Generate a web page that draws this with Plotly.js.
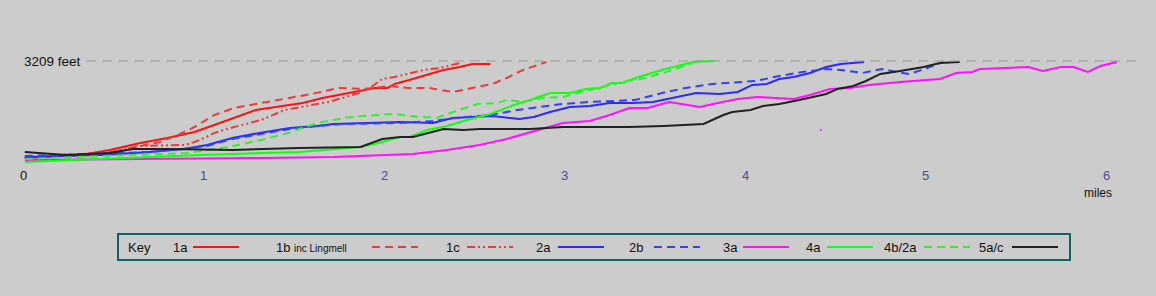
<!DOCTYPE html>
<html><head><meta charset="utf-8">
<script src="https://cdn.plot.ly/plotly-3.0.1.min.js"></script>
<style>html,body{margin:0;padding:0;background:#cccccc;}#chart{width:1156px;height:296px;}</style>
</head><body><div id="chart"></div>
<script>
// ---- DATA (distance in miles, height in feet) ----
const summitFeet = 3209;
const seriesNames = ['1a','1b','1c','2a','2b','3a','4a','4b/2a','5a/c'];
const tickValues = [0,1,2,3,4,5,6];
const tickLabels = ['0','1','2','3','4','5','6'];

const miles1a = [0.01,0.32,0.48,0.65,0.80,0.95,1.06,1.17,1.29,1.40,1.55,1.66,1.75,1.88,1.95,2.02,2.06,2.14,2.27,2.33,2.42,2.49,2.59];
const feet1a  = [300,390,540,750,900,1080,1290,1500,1740,1830,1950,2100,2190,2310,2400,2400,2520,2640,2850,2940,3030,3120,3120];

const miles1b = [0.01,0.43,0.65,0.76,0.87,0.95,1.06,1.17,1.32,1.47,1.60,1.75,1.88,1.95,2.03,2.14,2.25,2.38,2.49,2.60,2.68,2.77,2.90];
const feet1b  = [300,390,660,780,1020,1230,1590,1800,1950,2100,2220,2400,2370,2400,2460,2400,2400,2280,2400,2520,2700,2940,3180];

const miles1c = [0.01,0.48,0.65,0.80,0.90,0.98,1.06,1.17,1.32,1.45,1.58,1.69,1.77,1.86,1.93,1.99,2.06,2.22,2.31,2.42];
const feet1c  = [300,480,660,690,690,840,1050,1230,1440,1740,1860,1980,2100,2250,2430,2670,2730,2940,3000,3150];

const miles2a = [0.01,0.43,0.70,0.89,1.02,1.16,1.31,1.48,1.63,1.72,1.91,2.09,2.27,2.38,2.60,2.68,2.75,2.83,2.92,3.03,3.14,3.25,3.38,3.49,3.60,3.73,3.86,3.96,4.04,4.12,4.19,4.27,4.36,4.45,4.53,4.62,4.66];
const feet2a  = [330,390,480,570,690,900,1050,1200,1260,1320,1350,1380,1350,1500,1560,1500,1470,1530,1680,1830,1860,1950,1950,1980,2100,2250,2220,2280,2490,2520,2670,2730,2850,3030,3120,3150,3180];

const miles2b = [0.01,0.43,0.70,0.89,1.02,1.16,1.31,1.48,1.63,1.78,2.09,2.27,2.40,2.59,2.74,2.86,2.99,3.14,3.39,3.54,3.67,3.82,3.96,4.06,4.19,4.32,4.45,4.53,4.65,4.76,4.84,4.91,5.01,5.10];
const feet2b  = [360,420,480,570,660,870,1020,1170,1260,1320,1350,1410,1500,1590,1740,1830,1920,1980,2040,2250,2400,2520,2580,2610,2760,2880,2970,2940,2850,2970,2880,2820,3000,3180];

const miles3a = [0.01,0.80,1.35,1.72,1.98,2.16,2.35,2.53,2.68,2.81,2.99,3.14,3.25,3.36,3.46,3.58,3.75,3.85,3.96,4.07,4.22,4.27,4.36,4.47,4.58,4.69,4.86,5.08,5.17,5.26,5.30,5.41,5.57,5.65,5.75,5.82,5.90,5.97,6.06];
const feet3a  = [240,270,300,330,390,420,540,690,870,1080,1350,1410,1590,1800,1800,1980,1830,1950,2070,2130,2100,2070,2190,2370,2400,2490,2580,2670,2850,2880,2970,3000,3030,2910,3030,3030,2880,3060,3180];
const miles3aStray = [4.42];
const feet3aStray  = [1140];

const miles4a = [0.01,0.43,0.98,1.53,1.87,1.99,2.09,2.14,2.24,2.35,2.46,2.59,2.72,2.81,2.92,3.03,3.12,3.20,3.26,3.32,3.41,3.54,3.67,3.71,3.83];
const feet4a  = [180,270,390,480,630,780,930,930,1140,1260,1440,1620,1890,2040,2250,2250,2370,2400,2550,2550,2730,2940,3120,3180,3209];

const miles4b = [0.01,0.61,0.91,1.14,1.32,1.47,1.56,1.66,1.78,1.88,2.06,2.14,2.29,2.40,2.52,2.63,2.68,2.77,2.88,2.99,3.14,3.24,3.32,3.45,3.60,3.71];
const feet4b  = [270,390,450,630,840,1050,1230,1380,1500,1560,1620,1560,1500,1710,1920,1950,2040,1980,2100,2130,2340,2460,2580,2700,2940,3150];

const miles5 = [0.01,0.24,0.48,0.61,0.80,1.16,1.53,1.87,1.99,2.09,2.16,2.33,2.44,2.53,2.81,2.99,3.36,3.55,3.77,3.82,3.88,3.93,4.03,4.10,4.19,4.30,4.45,4.51,4.60,4.67,4.75,4.86,4.99,5.08,5.19];
const feet5  = [480,390,450,570,570,540,600,630,870,930,930,1170,1140,1170,1170,1230,1230,1260,1320,1440,1590,1680,1740,1860,1920,2040,2220,2370,2460,2610,2820,2910,3030,3150,3180];

// ---- STYLE ----
const W = 1156, H = 296;
const pxPerMile = 180.5, originPx = 23;      // x pixel of 0 miles
const ftPerPx = 30, summitPy = 61;           // y pixel of summit line
const colors = ['#ff1111','#ee3a3a','#ee3a3a','#2a2aff','#3344ee','#ff11ff','#11ff11','#33ee33','#222222'];
const dashes = ['solid','8px,5px','8px,3px,2px,3px,2px,3px','solid','8px,5px','solid','solid','8px,5px','solid'];
const xs = [miles1a,miles1b,miles1c,miles2a,miles2b,miles3a,miles4a,miles4b,miles5];
const ys = [feet1a,feet1b,feet1c,feet2a,feet2b,feet3a,feet4a,feet4b,feet5];

const traces = xs.map((x,i)=>({
  x:x, y:ys[i], type:'scatter', mode:'lines', name:seriesNames[i],
  line:{color:colors[i], width:2, dash:dashes[i]}, hoverinfo:'skip'
}));
traces.push({x:miles3aStray, y:feet3aStray, type:'scatter', mode:'markers', name:'3a',
  marker:{color:'#ff11ff', size:2}, hoverinfo:'skip'});

const px = v => v / W;
const py = v => 1 - v / H;
const xr = [(0 - originPx)/pxPerMile, (W - originPx)/pxPerMile];
const yr = [summitFeet - (H - summitPy)*ftPerPx, summitFeet + summitPy*ftPerPx];

const FONT = 'Liberation Sans, Arial, sans-serif';
const annotations = [];
const shapes = [];

// summit reference line
shapes.push({type:'line', xref:'paper', yref:'y', x0:px(86), x1:px(1138), y0:summitFeet, y1:summitFeet,
  line:{color:'#9a9a9a', width:1, dash:'10px,6px'}});
annotations.push({xref:'paper', yref:'y', x:px(22), y:summitFeet, xanchor:'left', yanchor:'middle',
  text:summitFeet + ' feet', showarrow:false, font:{family:FONT, size:13.5, color:'#111'}});

// x tick labels
tickValues.forEach((v,i)=>{
  annotations.push({xref:'x', yref:'paper', x:v, y:py(175), xanchor:'center', yanchor:'middle',
    text:tickLabels[i], showarrow:false,
    font:{family:FONT, size:13, color: i===0 ? '#111' : '#4a4a96'}});
});
annotations.push({xref:'paper', yref:'paper', x:px(1098), y:py(193), xanchor:'center', yanchor:'middle',
  text:'miles', showarrow:false, font:{family:FONT, size:12, color:'#111'}});

// custom key box
shapes.push({type:'rect', xref:'paper', yref:'paper', x0:px(118), x1:px(1070), y0:py(234), y1:py(260),
  line:{color:'#0b6565', width:2}, fillcolor:'rgba(0,0,0,0)'});
const keyY = py(247);
annotations.push({xref:'paper', yref:'paper', x:px(126), y:keyY, xanchor:'left', yanchor:'middle',
  text:'Key', showarrow:false, font:{family:FONT, size:13, color:'#111'}});
const keyLabelX = [171,274,444,534,627,721,804,882,977];
const keySampleX = [193,372,467,558,654,743,827,924,1012];
const keySampleLen = 46;
seriesNames.forEach((n,i)=>{
  annotations.push({xref:'paper', yref:'paper', x:px(keyLabelX[i]), y:keyY, xanchor:'left', yanchor:'middle',
    text:n, showarrow:false, font:{family:FONT, size:13, color:'#111'}});
  shapes.push({type:'line', xref:'paper', yref:'paper', x0:px(keySampleX[i]), x1:px(keySampleX[i]+keySampleLen),
    y0:keyY, y1:keyY, line:{color:colors[i], width:2, dash:dashes[i]}});
});
annotations.push({xref:'paper', yref:'paper', x:px(292), y:py(248), xanchor:'left', yanchor:'middle',
  text:'inc Lingmell', showarrow:false, font:{family:FONT, size:10, color:'#111'}});

const layout = {
  width:W, height:H, margin:{l:0,r:0,t:0,b:0,pad:0},
  paper_bgcolor:'#cccccc', plot_bgcolor:'#cccccc', showlegend:false,
  xaxis:{range:xr, visible:false, fixedrange:true},
  yaxis:{range:yr, visible:false, fixedrange:true},
  shapes:shapes, annotations:annotations
};
Plotly.newPlot('chart', traces, layout, {staticPlot:true, displayModeBar:false});
</script></body></html>
